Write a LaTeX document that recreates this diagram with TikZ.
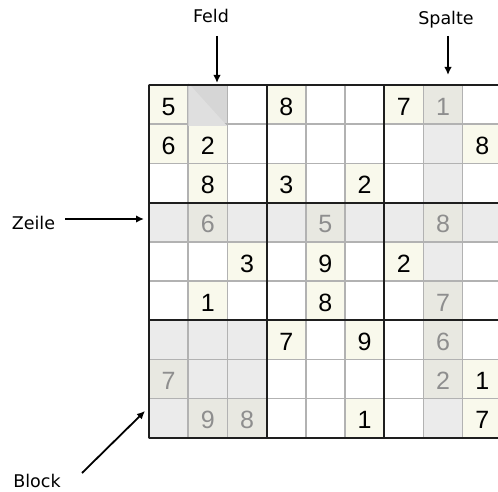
\documentclass[tikz,border=0pt]{standalone}
\usepackage{fontspec}
\setmainfont{Liberation Sans}
\newfontfamily\labelfont{DejaVu Sans}
\usetikzlibrary{arrows.meta}
\definecolor{givenbg}{HTML}{F9F9EC}
\definecolor{hlbg}{HTML}{EBEBEB}
\definecolor{hlgivenbg}{HTML}{E8E8E1}
\definecolor{feldbg}{HTML}{D6D6D6}
\definecolor{feldtri}{HTML}{DFDFDF}
\definecolor{thinline}{HTML}{B2B2B2}
\definecolor{thickline}{HTML}{1E1E1E}
\definecolor{graydigit}{HTML}{8E8E8E}
\tikzset{
  cell/.style={minimum size=39.2pt, inner sep=0pt, draw=thinline, line width=1.6pt},
  cgiven/.style={cell, fill=givenbg},
  chl/.style={cell, fill=hlbg},
  chlgiven/.style={cell, fill=hlgivenbg},
  cempty/.style={cell, fill=white},
  cfeld/.style={cell, fill=feldbg},
  dblack/.style={inner sep=0pt, text=black, font=\fontsize{25}{25}\selectfont, yshift=-2pt},
  dgray/.style={dblack, text=graydigit},
  lbl/.style={inner sep=0pt, anchor=base, font=\labelfont\fontsize{17.5}{17.5}\selectfont},
  arr/.style={line width=1.8pt, -{Latex[length=8pt,width=7.5pt]}},
  blockline/.style={draw=thickline, line width=2.2pt}
}
\begin{document}
\begin{tikzpicture}[x=1pt,y=-1pt]
\useasboundingbox (0,0) rectangle (498,492);
\clip (0,0) rectangle (498,492);
\fill[white] (0,0) rectangle (498,492);
% cells
\foreach \r/\c/\t in {
 1/1/cgiven,1/2/cfeld,1/3/cempty,1/4/cgiven,1/5/cempty,1/6/cempty,1/7/cgiven,1/8/chlgiven,1/9/cempty,
 2/1/cgiven,2/2/cgiven,2/3/cempty,2/4/cempty,2/5/cempty,2/6/cempty,2/7/cempty,2/8/chl,2/9/cgiven,
 3/1/cempty,3/2/cgiven,3/3/cempty,3/4/cgiven,3/5/cempty,3/6/cgiven,3/7/cempty,3/8/chl,3/9/cempty,
 4/1/chl,4/2/chlgiven,4/3/chl,4/4/chl,4/5/chlgiven,4/6/chl,4/7/chl,4/8/chlgiven,4/9/chl,
 5/1/cempty,5/2/cempty,5/3/cgiven,5/4/cempty,5/5/cgiven,5/6/cempty,5/7/cgiven,5/8/chl,5/9/cempty,
 6/1/cempty,6/2/cgiven,6/3/cempty,6/4/cempty,6/5/cgiven,6/6/cempty,6/7/cempty,6/8/chlgiven,6/9/cempty,
 7/1/chl,7/2/chl,7/3/chl,7/4/cgiven,7/5/cempty,7/6/cgiven,7/7/cempty,7/8/chlgiven,7/9/cempty,
 8/1/chlgiven,8/2/chl,8/3/chl,8/4/cempty,8/5/cempty,8/6/cempty,8/7/cempty,8/8/chlgiven,8/9/cgiven,
 9/1/chl,9/2/chlgiven,9/3/chlgiven,9/4/cempty,9/5/cempty,9/6/cgiven,9/7/cempty,9/8/chl,9/9/cgiven}
 {\node[\t] (c\r\c) at ({149+(\c-0.5)*39.2},{85+(\r-0.5)*39.2}) {};}
% lighter triangle in the marked cell
\fill[feldtri] ([shift={(1,1)}]c12.south west) -- ([shift={(-1,1)}]c12.south east) -- ([shift={(1,-1)}]c12.north west) -- cycle;
% digits
\foreach \r/\c/\d/\s in {
 1/1/5/dblack,1/4/8/dblack,1/7/7/dblack,1/8/1/dgray,
 2/1/6/dblack,2/2/2/dblack,2/9/8/dblack,
 3/2/8/dblack,3/4/3/dblack,3/6/2/dblack,
 4/2/6/dgray,4/5/5/dgray,4/8/8/dgray,
 5/3/3/dblack,5/5/9/dblack,5/7/2/dblack,
 6/2/1/dblack,6/5/8/dblack,6/8/7/dgray,
 7/4/7/dblack,7/6/9/dblack,7/8/6/dgray,
 8/1/7/dgray,8/8/2/dgray,8/9/1/dblack,
 9/2/9/dgray,9/3/8/dgray,9/6/1/dblack,9/9/7/dblack}
 {\node[\s] (d\r\c) at (c\r\c.center) {\d};}
% block lines
\foreach \k in {0,3,6,9}{
  \draw[blockline] ({149+\k*39.2},85) -- ({149+\k*39.2},{85+9*39.2});
  \draw[blockline] (149,{85+\k*39.2}) -- ({149+9*39.2},{85+\k*39.2});
}
% labels
\node[lbl] (feld) at (211,23) {Feld};
\node[lbl] (spalte) at (446,25) {Spalte};
\node[lbl] (zeile) at (33.5,229) {Zeile};
\node[lbl] (block) at (37,487) {Block};
% arrow ends
\coordinate (feldstart) at (217,36);
\coordinate (feldtip) at (217,83);
\coordinate (spaltestart) at (448,36);
\coordinate (spaltetip) at (448,75);
\coordinate (zeilestart) at (65,219);
\coordinate (zeiletip) at (144,219);
\coordinate (blockstart) at (82,473);
\coordinate (blocktip) at (145,411);
\draw[arr] (feldstart) -- (feldtip);
\draw[arr] (spaltestart) -- (spaltetip);
\draw[arr] (zeilestart) -- (zeiletip);
\draw[arr] (blockstart) -- (blocktip);
\end{tikzpicture}
\end{document}
